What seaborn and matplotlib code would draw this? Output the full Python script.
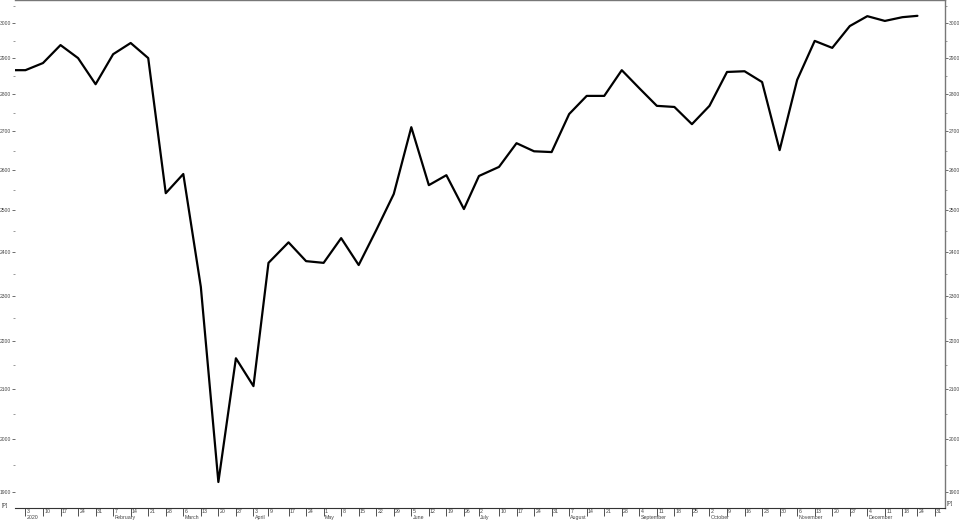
import pandas as pd
import matplotlib
matplotlib.use("Agg")
import matplotlib.pyplot as plt
import matplotlib.ticker as mticker
from matplotlib.transforms import offset_copy
import seaborn as sns

# weekly closes, 2020 (first point is last week of 2019)
week_dates = [
    "2019-12-27",
    "2020-01-03", "2020-01-10", "2020-01-17", "2020-01-24", "2020-01-31",
    "2020-02-07", "2020-02-14", "2020-02-21", "2020-02-28",
    "2020-03-06", "2020-03-13", "2020-03-20", "2020-03-27",
    "2020-04-03", "2020-04-09", "2020-04-17", "2020-04-24",
    "2020-05-01", "2020-05-08", "2020-05-15", "2020-05-22", "2020-05-29",
    "2020-06-05", "2020-06-12", "2020-06-19", "2020-06-26",
    "2020-07-02", "2020-07-10", "2020-07-17", "2020-07-24", "2020-07-31",
    "2020-08-07", "2020-08-14", "2020-08-21", "2020-08-28",
    "2020-09-04", "2020-09-11", "2020-09-18", "2020-09-25",
    "2020-10-02", "2020-10-09", "2020-10-16", "2020-10-23", "2020-10-30",
    "2020-11-06", "2020-11-13", "2020-11-20", "2020-11-27",
    "2020-12-04", "2020-12-11", "2020-12-18", "2020-12-24",
]
closes = [
    2866,
    2866, 2886, 2937, 2900, 2827,
    2911, 2943, 2900, 2542,
    2590, 2320, 1918, 2164,
    2106, 2375, 2423, 2379,
    2375, 2433, 2370, 2452, 2540,
    2711, 2562, 2587, 2503,
    2585, 2608, 2669, 2648, 2646,
    2746, 2795, 2795, 2866,
    2816, 2768, 2765, 2719,
    2768, 2861, 2863, 2833, 2651,
    2839, 2949, 2929, 2992,
    3021, 3007, 3018, 3022,
]

# date axis ticks
tick_dates = week_dates[1:] + ["2020-12-31"]
month_starts = ["2020-01-03", "2020-02-07", "2020-03-06", "2020-04-03", "2020-05-01",
                "2020-06-05", "2020-07-02", "2020-08-07", "2020-09-04", "2020-10-02",
                "2020-11-06", "2020-12-04"]
month_names = ["2020", "February", "March", "April", "May", "June", "July",
               "August", "September", "October", "November", "December"]

y_major = list(range(1900, 3001, 100))
y_minor = list(range(1850, 3051, 100))

df = pd.DataFrame({"date": pd.to_datetime(week_dates), "close": closes})

sns.set_style("white")
plt.rcParams["font.family"] = ["Liberation Sans Narrow", "Liberation Sans", "DejaVu Sans"]

fig = plt.figure(figsize=(9.59, 5.20), dpi=100)
ax = fig.add_axes([15 / 959, 1 - 508 / 520, 930 / 959, 508 / 520])

sns.lineplot(data=df, x="date", y="close", color="black", linewidth=1.6, ax=ax)

ax.set_yscale("log")
ax.set_ylim(1870, 3069)
ax.set_xlim(pd.Timestamp("2019-12-29 20:00"), pd.Timestamp("2021-01-04"))

ax.yaxis.set_major_locator(mticker.FixedLocator(y_major))
ax.yaxis.set_major_formatter(mticker.FixedFormatter([str(v) for v in y_major]))
ax.yaxis.set_minor_locator(mticker.FixedLocator(y_minor))
ax.yaxis.set_minor_formatter(mticker.NullFormatter())
ax.tick_params(axis="y", which="major", left=True, right=True, labelleft=True,
               labelright=True, length=2, width=0.6, color="#555555",
               labelsize=3.6, labelcolor="#444444", pad=0.6)
ax.tick_params(axis="y", which="minor", left=True, right=True, length=1.5,
               width=0.6, color="#888888")

ax.set_xticks(pd.to_datetime(tick_dates))
ax.set_xticklabels([""] * len(tick_dates))
ax.tick_params(axis="x", which="major", bottom=True, length=5.5, width=0.6,
               color="#333333", direction="out")
ax.tick_params(axis="x", which="minor", bottom=False)

ax.set_xlabel("")
ax.set_ylabel("")

for side in ["top", "right"]:
    ax.spines[side].set_color("#777777")
    ax.spines[side].set_linewidth(1.0)
ax.spines["left"].set_visible(False)
ax.spines["bottom"].set_color("#333333")
ax.spines["bottom"].set_linewidth(0.8)

trans = ax.get_xaxis_transform()
day_trans = offset_copy(trans, fig=fig, x=1.2, y=-1.2, units="dots")
mon_trans = offset_copy(trans, fig=fig, x=1.2, y=-7.0, units="dots")
for d in tick_dates:
    ts = pd.Timestamp(d)
    ax.text(ts, 0, str(ts.day), transform=day_trans, fontsize=3.8,
            color="#444444", ha="left", va="top")
for d, name in zip(month_starts, month_names):
    ax.text(pd.Timestamp(d), 0, name, transform=mon_trans, fontsize=3.8,
            color="#444444", ha="left", va="top")

fig.text(2 / 959, 1 - 505 / 520, "[P]", fontsize=3.8, color="#444444",
         ha="left", va="center")
fig.text(947 / 959, 1 - 503 / 520, "[P]", fontsize=3.8, color="#444444",
         ha="left", va="center")

fig.savefig("out.png", dpi=100)
